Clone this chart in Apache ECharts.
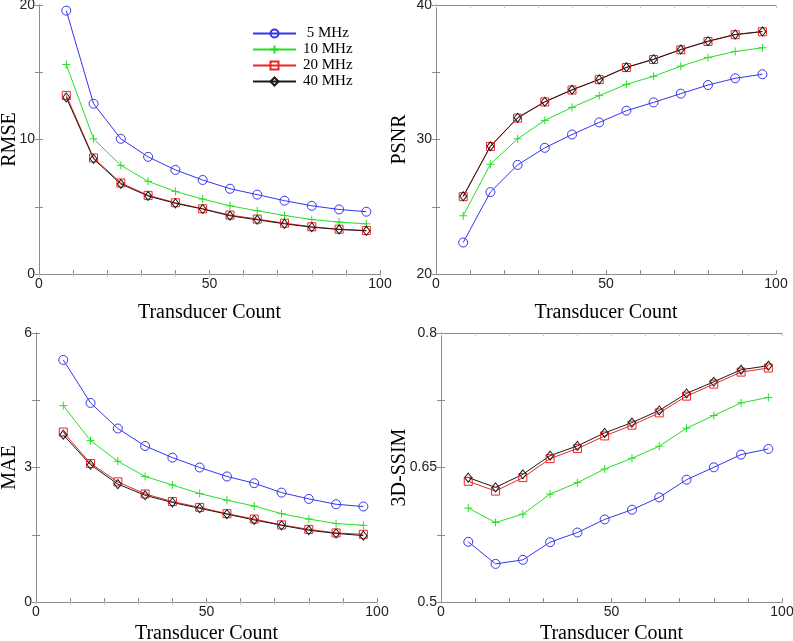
<!DOCTYPE html>
<html>
<head>
<meta charset="utf-8">
<script src="https://cdn.jsdelivr.net/npm/echarts@6/dist/echarts.min.js"></script>
<style>html,body{margin:0;padding:0;background:#fff;}#c{width:793px;height:641px;}</style>
</head>
<body>
<div id="c"></div>
<script>
const transducers = [8, 16, 24, 32, 40, 48, 56, 64, 72, 80, 88, 96];
const seriesNames = [' 5 MHz', '10 MHz', '20 MHz', '40 MHz'];

const rmse5  = [19.58, 12.66, 10.05, 8.71, 7.74, 6.99, 6.34, 5.90, 5.45, 5.07, 4.80, 4.63];
const rmse10 = [15.57, 10.05, 8.08, 6.89, 6.14, 5.57, 5.07, 4.70, 4.35, 4.05, 3.86, 3.73];
const rmse20 = [13.28, 8.63, 6.77, 5.85, 5.30, 4.85, 4.38, 4.08, 3.78, 3.51, 3.33, 3.23];
const rmse40 = [13.13, 8.56, 6.69, 5.80, 5.25, 4.83, 4.33, 4.03, 3.73, 3.48, 3.31, 3.21];

const psnr5  = [22.34, 26.09, 28.11, 29.38, 30.37, 31.27, 32.14, 32.76, 33.41, 34.05, 34.55, 34.85];
const psnr10 = [24.33, 28.16, 30.05, 31.42, 32.39, 33.26, 34.10, 34.70, 35.45, 36.09, 36.54, 36.82];
const psnr20 = [25.75, 29.48, 31.59, 32.79, 33.68, 34.45, 35.35, 35.95, 36.67, 37.29, 37.79, 38.01];
const psnr40 = [25.78, 29.50, 31.62, 32.81, 33.70, 34.47, 35.37, 35.97, 36.69, 37.31, 37.81, 38.03];

const mae5  = [5.40, 4.44, 3.87, 3.48, 3.22, 3.00, 2.80, 2.65, 2.44, 2.30, 2.18, 2.13];
const mae10 = [4.38, 3.60, 3.14, 2.80, 2.61, 2.42, 2.27, 2.14, 1.97, 1.85, 1.75, 1.71];
const mae20 = [3.79, 3.09, 2.68, 2.41, 2.24, 2.11, 1.97, 1.85, 1.72, 1.62, 1.54, 1.51];
const mae40 = [3.73, 3.06, 2.63, 2.38, 2.22, 2.09, 1.96, 1.83, 1.71, 1.60, 1.53, 1.48];

const ssim5  = [0.5671, 0.5425, 0.5470, 0.5667, 0.5775, 0.5921, 0.6029, 0.6167, 0.6364, 0.6502, 0.6644, 0.6707];
const ssim10 = [0.6047, 0.5887, 0.5980, 0.6204, 0.6331, 0.6483, 0.6603, 0.6737, 0.6938, 0.7080, 0.7221, 0.7281];
const ssim20 = [0.6346, 0.6237, 0.6387, 0.6599, 0.6711, 0.6852, 0.6972, 0.7109, 0.7296, 0.7430, 0.7564, 0.7609];
const ssim40 = [0.6387, 0.6278, 0.6424, 0.6632, 0.6741, 0.6886, 0.7001, 0.7136, 0.7326, 0.7456, 0.7590, 0.7635];

const xTicks = [0, 10, 20, 30, 40, 50, 60, 70, 80, 90, 100];
const xTickLabels = [0, 50, 100];

const panels = [
  { name: 'RMSE', min: 0, max: 20, ticks: [0, 5, 10, 15, 20], labels: [0, 10, 20], data: [rmse5, rmse10, rmse20, rmse40] },
  { name: 'PSNR', min: 20, max: 40, ticks: [20, 25, 30, 35, 40], labels: [20, 30, 40], data: [psnr5, psnr10, psnr20, psnr40] },
  { name: 'MAE', min: 0, max: 6, ticks: [0, 1.5, 3, 4.5, 6], labels: [0, 3, 6], data: [mae5, mae10, mae20, mae40] },
  { name: '3D-SSIM', min: 0.5, max: 0.8, ticks: [0.5, 0.575, 0.65, 0.725, 0.8], labels: [0.5, 0.65, 0.8], data: [ssim5, ssim10, ssim20, ssim40] }
];

// layout
const grids = [
  { left: 39, right: 413, top: 5, bottom: 367, xGap: 29, yGap: 19 },
  { left: 436, right: 17, top: 5, bottom: 367, xGap: 29, yGap: 26 },
  { left: 36, right: 416, top: 333, bottom: 39, xGap: 22, yGap: 16 },
  { left: 441, right: 11, top: 333, bottom: 39, xGap: 22, yGap: 31 }
];

const styles = [
  { color: '#3535ee', symbol: 'circle', size: 9 },
  { color: '#26e026', symbol: 'path://M5,0L5,10M0,5L10,5', size: 8 },
  { color: '#ee2424', symbol: 'rect', size: 8 },
  { color: '#1a1a1a', symbol: 'diamond', size: [7, 9] }
];

const serif = "'Liberation Serif', 'Times New Roman', serif";
const sans = "'Liberation Sans', Arial, sans-serif";
const boxColor = '#8c8c8c';

const option = {
  animation: false,
  backgroundColor: '#fff',
  grid: [], xAxis: [], yAxis: [], series: [],
  legend: {
    data: seriesNames,
    orient: 'vertical',
    left: 252, top: 26,
    itemWidth: 43, itemHeight: 10, itemGap: 1,
    textStyle: { fontFamily: serif, fontSize: 15, color: '#000', padding: [0, 0, 0, 2] },
    padding: 0
  }
};

panels.forEach((p, i) => {
  const g = grids[i];
  option.grid.push({ left: g.left, right: g.right, top: g.top, bottom: g.bottom, containLabel: false, outerBoundsMode: 'none' });
  option.xAxis.push({
    type: 'value', gridIndex: i, min: 0, max: 100, position: 'bottom',
    name: 'Transducer Count', nameLocation: 'middle', nameGap: g.xGap,
    nameTextStyle: { fontFamily: serif, fontSize: 20, color: '#000' },
    axisLine: { show: true, lineStyle: { color: boxColor, width: 1 } },
    axisTick: { show: true, inside: true, length: 4, customValues: xTicks, lineStyle: { color: boxColor } },
    axisLabel: { customValues: xTickLabels, fontFamily: sans, fontSize: 14, color: '#222', margin: 3 },
    splitLine: { show: false }
  });
  option.xAxis.push({
    type: 'value', gridIndex: i, min: 0, max: 100, position: 'top',
    axisLine: { show: true, lineStyle: { color: boxColor, width: 1 } },
    axisTick: { show: true, inside: true, length: 3, customValues: xTicks, lineStyle: { color: '#c8c8c8' } },
    axisLabel: { show: false }, splitLine: { show: false }
  });
  option.yAxis.push({
    type: 'value', gridIndex: i, min: p.min, max: p.max, position: 'left',
    name: p.name, nameLocation: 'middle', nameGap: g.yGap, nameMoveOverlap: false,
    nameTextStyle: { fontFamily: serif, fontSize: 20, color: '#000' },
    axisLine: { show: true, lineStyle: { color: boxColor, width: 1 } },
    axisTick: { show: true, inside: true, length: 4, customValues: p.ticks, lineStyle: { color: boxColor } },
    axisLabel: { customValues: p.labels, fontFamily: sans, fontSize: 14, color: '#222', margin: 4 },
    splitLine: { show: false }
  });
  option.yAxis.push({
    type: 'value', gridIndex: i, min: p.min, max: p.max, position: 'right',
    axisLine: { show: true, lineStyle: { color: boxColor, width: 1 } },
    axisTick: { show: true, inside: true, length: 4, customValues: p.ticks, lineStyle: { color: boxColor } },
    axisLabel: { show: false }, splitLine: { show: false }
  });
  p.data.forEach((vals, k) => {
    const s = styles[k];
    option.series.push({
      name: seriesNames[k], type: 'line',
      xAxisIndex: 2 * i, yAxisIndex: 2 * i,
      data: transducers.map((x, j) => [x, vals[j]]),
      symbol: s.symbol, symbolSize: s.size, showSymbol: true,
      lineStyle: { color: s.color, width: 1 },
      itemStyle: { color: 'none', borderColor: s.color, borderWidth: 1 },
      emphasis: { disabled: true }
    });
  });
});

const chart = echarts.init(document.getElementById('c'), null, { renderer: 'canvas' });
chart.setOption(option);
</script>
</body>
</html>
